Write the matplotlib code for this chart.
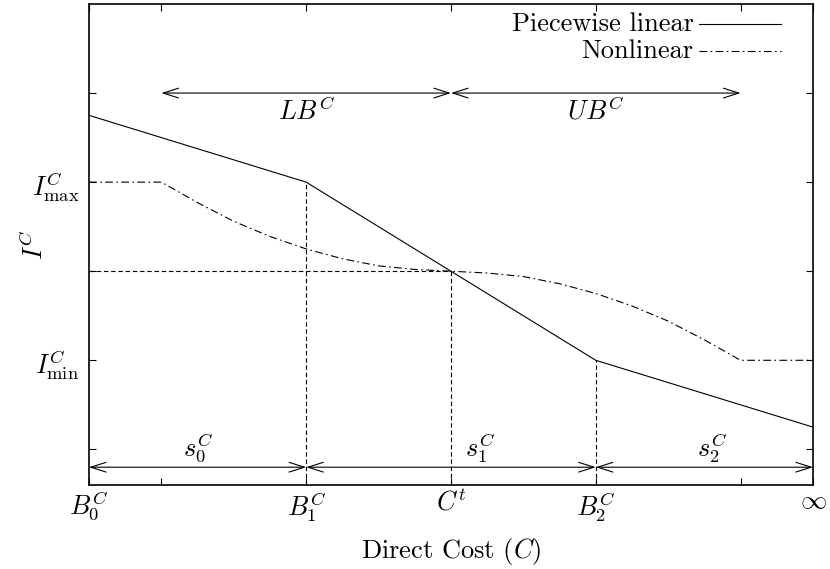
import matplotlib
matplotlib.use("Agg")
import matplotlib.pyplot as plt
from matplotlib.patches import FancyArrowPatch

plt.rcParams['font.family'] = 'serif'
plt.rcParams['font.serif'] = ['cmr10', 'DejaVu Serif']
plt.rcParams['mathtext.fontset'] = 'cm'
plt.rcParams['axes.formatter.use_mathtext'] = True

# Data
pw_x = [0, 3, 5, 7, 10]
pw_y = [4.75, 4.0, 3.0, 2.0, 1.25]

nl_x = [0, 1, 1.5, 2, 2.5, 3, 3.5, 4, 4.5, 5, 5.5, 6, 6.5, 7, 7.5, 8, 8.5, 9, 10]
nl_y = [4.0, 4.0, 3.77, 3.56, 3.39, 3.25, 3.14, 3.06, 3.02, 3.0,
        2.98, 2.94, 2.86, 2.75, 2.61, 2.44, 2.23, 2.0, 2.0]

xtick_pos = [0, 1, 3, 5, 7, 9, 10]
xtick_labels = [r'$B^C_0$', '', r'$B^C_1$', r'$C^t$', r'$B^C_2$', '', r'$\infty$']
ytick_pos = [1, 2, 3, 4, 5]
ytick_labels = ['', r'$I^C_{\mathrm{min}}$', '', r'$I^C_{\mathrm{max}}$', '']

# guide lines
vguide_x = [3, 5, 7]
vguide_top = [4.0, 3.0, 2.0]
hguide_y = 3.0
hguide_x1 = 5

# arrows (x0, x1, y) and labels (text, x, y)
top_arrows = [(1, 5, 5.0), (5, 9, 5.0)]
top_labels = [(r'$LB^C$', 3, 4.8), (r'$UB^C$', 7, 4.8)]
bot_arrows = [(0, 3, 0.8), (3, 7, 0.8), (7, 10, 0.8)]
bot_labels = [(r'$s^C_0$', 1.5, 1.02), (r'$s^C_1$', 5.4, 1.02), (r'$s^C_2$', 8.6, 1.02)]

fig = plt.figure(figsize=(8.30, 5.69), dpi=100)
ax = fig.add_axes([0.1072, 0.1476, 0.9795 - 0.1072, 0.993 - 0.1476])
ax.set_xlim(0, 10)
ax.set_ylim(0.6, 6.0)

lw = 0.8
ax.plot(pw_x, pw_y, color='black', lw=lw, solid_joinstyle='miter')
ax.plot(nl_x, nl_y, color='black', lw=lw, dashes=(7, 3, 1.5, 3))

for x, t in zip(vguide_x, vguide_top):
    ax.plot([x, x], [0.6, t], color='black', lw=lw, dashes=(4, 2.5))
ax.plot([0, hguide_x1], [hguide_y, hguide_y], color='black', lw=lw, dashes=(4, 2.5))

for x0, x1, y in top_arrows + bot_arrows:
    a = FancyArrowPatch((x0, y), (x1, y), arrowstyle='<->,head_length=1.1,head_width=0.35',
                        mutation_scale=10, color='black', lw=lw, shrinkA=0, shrinkB=0)
    ax.add_patch(a)

fs = 19
for t, x, y in top_labels + bot_labels:
    ax.text(x, y, t, ha='center', va='center', fontsize=fs)

ax.set_xticks(xtick_pos)
ax.set_xticklabels(xtick_labels, fontsize=fs)
ax.set_yticks(ytick_pos)
ax.set_yticklabels(ytick_labels, fontsize=fs)
ax.tick_params(direction='in', length=5, width=0.8, top=True, right=True, pad=3)
ax.tick_params(axis='y', pad=7)
for s in ax.spines.values():
    s.set_linewidth(1.2)

ax.set_xlabel(r'Direct Cost ($C$)', fontsize=fs)
ax.xaxis.set_label_coords(0.5, -0.105)
ax.set_ylabel(r'$I^C$', fontsize=fs)
ax.yaxis.set_label_coords(-0.056, 0.5)

# legend (manual, right-aligned text)
ax.text(0.835, 0.958, 'Piecewise linear', transform=ax.transAxes, ha='right', va='center', fontsize=fs)
ax.text(0.835, 0.902, 'Nonlinear', transform=ax.transAxes, ha='right', va='center', fontsize=fs)
ax.plot([0.842, 0.956], [0.958, 0.958], transform=ax.transAxes, color='black', lw=lw)
ax.plot([0.842, 0.956], [0.902, 0.902], transform=ax.transAxes, color='black', lw=lw,
        dashes=(7, 3, 1.5, 3))

fig.savefig('out.png', dpi=100)
